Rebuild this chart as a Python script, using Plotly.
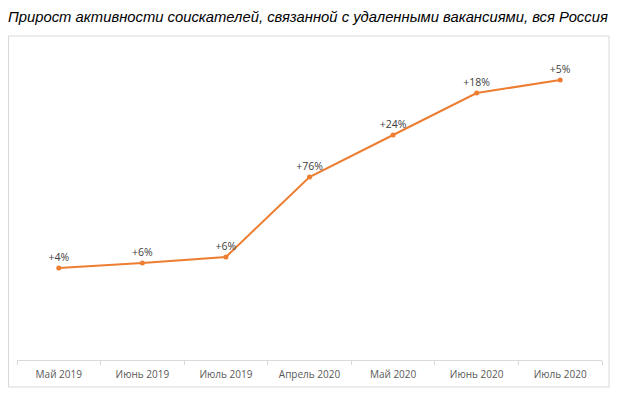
import plotly.graph_objects as go

categories = ["Май 2019", "Июнь 2019", "Июль 2019", "Апрель 2020", "Май 2020", "Июнь 2020", "Июль 2020"]
values = [92, 97, 103, 183, 225, 267, 280]
labels = ["+4%", "+6%", "+6%", "+76%", "+24%", "+18%", "+5%"]

# The page body adds an 8px offset; positions below are in figure pixels.
W, H = 623, 395
L, R, T, B = 9, 29, 32, 43
pw, ph = W - L - R, H - T - B

def px_x(p):
    return (p - L) / pw

def px_y(p):
    return (H - B - p) / ph

fig = go.Figure()
fig.add_trace(go.Scatter(
    x=categories, y=values, mode="lines+markers+text",
    text=labels, textposition="top center",
    textfont=dict(family="Open Sans, Arial, sans-serif", size=10.5, color="#404040"),
    line=dict(color="#ED7D31", width=2),
    marker=dict(color="#ED7D31", size=5),
    cliponaxis=False, hoverinfo="skip",
))

fig.update_layout(
    width=W, height=H,
    margin=dict(l=L, r=R, t=T, b=B),
    paper_bgcolor="white", plot_bgcolor="white",
    showlegend=False,
    title=dict(
        text="<i>Прирост активности соискателей, связанной с удаленными вакансиями, вся Россия</i>",
        xref="container", yref="container", x=0, xanchor="left",
        y=1 - 9 / H, yanchor="middle",
        font=dict(family="Liberation Sans, Arial, sans-serif", size=14.8, color="#000000"),
    ),
    shapes=[dict(
        type="rect", xref="paper", yref="paper",
        x0=px_x(0.5), x1=px_x(601), y0=px_y(379), y1=px_y(28),
        line=dict(color="#d9d9d9", width=1), fillcolor="rgba(0,0,0,0)", layer="below",
    )],
)
fig.update_xaxes(
    type="category", range=[-0.5, len(categories) - 0.5],
    tickson="boundaries", ticks="outside", ticklen=4,
    tickcolor="#d9d9d9", showline=True, linecolor="#d9d9d9", linewidth=1,
    showgrid=False, zeroline=False, ticklabelstandoff=5,
    tickfont=dict(family="Open Sans, Arial, sans-serif", size=10, color="#595959"),
)
fig.update_yaxes(range=[0, ph], visible=False, showgrid=False, zeroline=False)

fig.write_html("out.html")
